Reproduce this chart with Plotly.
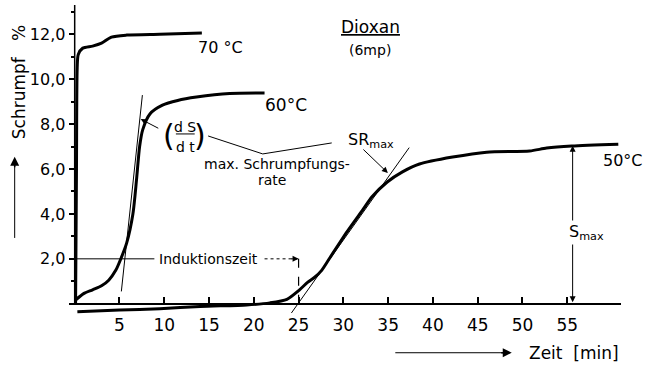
import plotly.graph_objects as go

# Shrinkage curves (Schrumpf in %) over time (min) in dioxane at three temperatures
t_70 = [0.1, 0.2, 0.28, 0.4, 0.9, 2.0, 3.0, 4.1, 5.8, 9.5, 14.2]
s_70 = [0.0, 6.0, 10.5, 11.1, 11.38, 11.47, 11.6, 11.87, 11.96, 12.0, 12.05]

t_60 = [0.05, 1.0, 2.0, 3.0, 3.8, 4.6, 5.2, 5.8, 6.5, 6.9, 7.25, 7.6, 8.4, 9.8, 11.5, 13.6, 17.3, 21.2]
s_60 = [0.15, 0.45, 0.62, 0.8, 1.05, 1.5, 2.05, 2.7, 4.0, 5.5, 7.0, 7.75, 8.45, 8.84, 9.05, 9.2, 9.36, 9.38]

t_50 = [0.3, 5.0, 9.5, 14.0, 19.2, 21.8, 23.7, 25.1, 26.0, 26.8, 27.6, 28.5, 30.4, 32.2, 33.2, 34.9,
        36.6, 38.5, 42.2, 46.0, 50.8, 52.7, 55.5, 60.7]
s_50 = [-0.35, -0.28, -0.22, -0.12, -0.05, 0.04, 0.2, 0.62, 0.95, 1.18, 1.5, 2.05, 3.2, 4.2, 4.76, 5.42,
        5.87, 6.22, 6.53, 6.75, 6.8, 6.93, 7.02, 7.1]

# Tangents at the point of maximum shrinkage rate
tan60_t = [5.21, 7.56]
tan60_s = [0.55, 9.29]
tan50_t = [24.2, 37.35]
tan50_s = [-0.41, 6.95]

induction_time = 25.0
induction_level = 2.0
s_max_time = 55.6
s_max_value = 7.03

x_ticks = [5, 10, 15, 20, 25, 30, 35, 40, 45, 50, 55]
y_ticks = [0, 2, 4, 6, 8, 10, 12]
y_ticktext = ["", "2,0", "4,0", "6,0", "8,0", "10,0", "12,0"]

X_RANGE = [-0.3, 61.0]
Y_RANGE = [-0.5, 13.3]
FONT = "DejaVu Sans"
INK = "black"


def px(t):
    """data x -> paper fraction (for items placed outside the axis range)"""
    return (t - X_RANGE[0]) / (X_RANGE[1] - X_RANGE[0])


def py(s):
    return (s - Y_RANGE[0]) / (Y_RANGE[1] - Y_RANGE[0])


fig = go.Figure()

for tt, ss in [(t_70, s_70), (t_60, s_60), (t_50, s_50)]:
    fig.add_trace(go.Scatter(x=tt, y=ss, mode="lines",
                             line=dict(color=INK, width=3, shape="spline", smoothing=0.7),
                             hoverinfo="skip", showlegend=False))

for tt, ss in [(tan60_t, tan60_s), (tan50_t, tan50_s)]:
    fig.add_trace(go.Scatter(x=tt, y=ss, mode="lines", line=dict(color=INK, width=1),
                             hoverinfo="skip", showlegend=False))

# y axis line from zero upwards
fig.add_shape(type="line", x0=0, x1=0, y0=0, y1=Y_RANGE[1], xref="x", yref="y",
              line=dict(color=INK, width=1.5))

# Induktionszeit marker
fig.add_shape(type="line", x0=0, x1=8.9, y0=induction_level, y1=induction_level,
              line=dict(color=INK, width=1))
fig.add_shape(type="line", x0=21.2, x1=induction_time, y0=induction_level, y1=induction_level,
              line=dict(color=INK, width=1, dash="dot"))
fig.add_shape(type="line", x0=induction_time, x1=induction_time, y0=0, y1=induction_level,
              line=dict(color=INK, width=1.2, dash="dash"))

# bracket linking (dS/dt) and SR_max
fig.add_shape(type="path", path="M 14.9 7.47 L 21.0 6.67 L 28.7 7.16",
              line=dict(color=INK, width=1))
# fraction bar of dS/dt
fig.add_shape(type="line", x0=11.3, x1=13.4, y0=7.56, y1=7.56, line=dict(color=INK, width=1))

# time arrow below the axis and shrinkage arrow beside the y axis (paper coordinates)
fig.add_shape(type="line", xref="paper", yref="paper", x0=px(35.8), x1=px(48.6),
              y0=py(-2.18), y1=py(-2.18), line=dict(color=INK, width=1))
fig.add_shape(type="line", xref="paper", yref="paper", x0=px(-6.7), x1=px(-6.7),
              y0=py(2.93), y1=py(6.3), line=dict(color=INK, width=1))

annotations = []


def label(text, x, y, size, **kw):
    d = dict(text=text, x=x, y=y, xref="x", yref="y", showarrow=False,
             font=dict(family=FONT, size=size, color=INK))
    d.update(kw)
    annotations.append(d)


label("70 °C", 16.3, 11.42, 16)
label("60°C", 23.6, 8.84, 17)
label("50°C", 58.8, 6.4, 16, xanchor="left")
label("<u>Dioxan</u>", 33.0, 12.31, 17)
label("(6mp)", 33.0, 11.29, 14)
label("SR<sub>max</sub>", 33.1, 7.25, 16)
label("max. Schrumpfungs-", 22.6, 6.22, 14)
label("rate", 22.0, 5.51, 14)
label("Induktionszeit", 9.2, induction_level, 14, xanchor="left")
label("(", 10.55, 7.47, 30)
label(")", 14.0, 7.47, 30)
label("d S", 12.35, 7.86, 14)
label("d t", 12.35, 6.98, 14)

# texts outside the plotting area
annotations.append(dict(text="Zeit  [min]", x=px(50.5), y=py(-2.18), xref="paper", yref="paper",
                        xanchor="left", yanchor="middle", showarrow=False,
                        font=dict(family=FONT, size=17, color=INK)))
annotations.append(dict(text="Schrumpf   %", x=px(-6.25), y=py(9.85), xref="paper", yref="paper",
                        xanchor="center", yanchor="middle", textangle=-90, showarrow=False,
                        font=dict(family=FONT, size=17, color=INK)))

# arrows
arrow = dict(xref="x", yref="y", axref="x", ayref="y", text="", showarrow=True,
             arrowcolor=INK, arrowwidth=1, arrowhead=2, arrowsize=1.2)
annotations.append(dict(arrow, x=7.37, y=8.22, ax=9.5, ay=7.78))               # dS/dt leader
annotations.append(dict(arrow, x=34.97, y=5.82, ax=32.07, ay=6.93))            # SR_max
annotations.append(dict(arrow, x=induction_time, y=induction_level,
                        ax=24.0, ay=induction_level))                           # induction head
annotations.append(dict(arrow, x=s_max_time, y=s_max_value, ax=s_max_time, ay=0,
                        arrowside="end+start"))                                 # S_max
# arrow heads for the outside arrows
annotations.append(dict(text="", showarrow=True, xref="paper", yref="paper",
                        x=px(48.8), y=py(-2.18), ax=-12, ay=0,
                        arrowcolor=INK, arrowwidth=1.5, arrowhead=2, arrowsize=1.2))
annotations.append(dict(text="", showarrow=True, xref="paper", yref="paper",
                        x=px(-6.7), y=py(6.55), ax=0, ay=12,
                        arrowcolor=INK, arrowwidth=1.5, arrowhead=2, arrowsize=1.2))

label("S<sub>max</sub>", 57.1, 3.16, 16, bgcolor="white")

fig.update_layout(
    width=645, height=367,
    margin=dict(l=72.3, r=24.1, t=4.75, b=51.75),
    paper_bgcolor="white", plot_bgcolor="white",
    font=dict(family=FONT, color=INK),
    showlegend=False,
    annotations=annotations,
    xaxis=dict(range=X_RANGE, tickvals=x_ticks, ticks="inside", ticklen=6, tickwidth=1.5,
               tickcolor=INK, showline=True, linecolor=INK, linewidth=1.5,
               showgrid=False, zeroline=False, anchor="free",
               position=py(0),
               tickfont=dict(family=FONT, size=17, color=INK), ticklabelstandoff=6),
    yaxis=dict(range=Y_RANGE, tickvals=y_ticks, ticktext=y_ticktext, ticks="outside",
               ticklen=6, tickwidth=1.5, tickcolor=INK, showline=False,
               showgrid=False, zeroline=False, anchor="free",
               position=px(0),
               minor=dict(dtick=1, tick0=0, ticks="outside", ticklen=4, tickcolor=INK),
               tickfont=dict(family=FONT, size=16, color=INK)),
)

fig.write_html("out.html")
